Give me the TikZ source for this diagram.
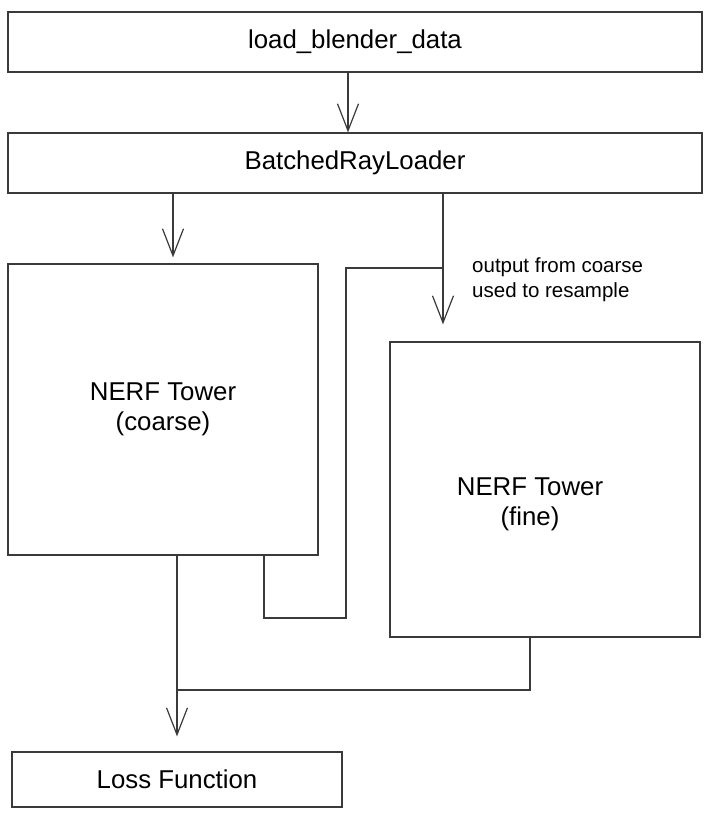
\documentclass[tikz,border=0pt]{standalone}
\usepackage{fontspec}
\setmainfont{Liberation Sans}
\usetikzlibrary{arrows.meta}
\definecolor{linegray}{HTML}{3A3A3A}
\begin{document}
\begin{tikzpicture}[x=1pt, y=-1pt,
  box/.style={draw=linegray, line width=1.2pt, inner sep=0pt, font=\fontsize{25.8}{30}\selectfont, align=center},
  conn/.style={draw=linegray, line width=1.2pt},
  arr/.style={conn, -{Straight Barb[length=27pt, width=21pt, line width=1.2pt]}},
  note/.style={font=\fontsize{20.5}{25}\selectfont, align=left, anchor=west, inner sep=0pt}]
\useasboundingbox (0,0) rectangle (712,825);
\node[box, minimum width=694pt, minimum height=60pt] (load) at (355,42){load\_blender\_data};
\node[box, minimum width=694pt, minimum height=60pt] (batch) at (355,163){BatchedRayLoader};
\node[box, minimum width=310pt, minimum height=291pt] (coarse) at (163,409.5){NERF Tower\\(coarse)};
\node[box, minimum width=310pt, minimum height=295pt] (fine) at (545,489.5){};
\node[box, draw=none] (finetxt) at (530,504){NERF Tower\\(fine)};
\node[box, minimum width=330pt, minimum height=55pt] (loss) at (177,779.5){Loss Function};
\node[note] (resample) at (472,280){output from coarse\\used to resample};
\coordinate (jn) at (443,268);
\coordinate (lp) at (346,618);
\coordinate (mrg) at (177,690);
\draw[arr] ([xshift=-7pt]load.south) -- ([xshift=-7pt]batch.north);
\draw[arr] ([xshift=-182pt]batch.south) -- ([xshift=10pt, yshift=6pt]coarse.north);
\draw[arr] ([xshift=88pt]batch.south) -- ([xshift=-102pt, yshift=17pt]fine.north);
\draw[conn] ([xshift=101pt]coarse.south) |- (lp) |- (jn);
\draw[arr] ([xshift=14pt]coarse.south) -- ([yshift=15pt]loss.north);
\draw[conn] ([xshift=-15pt]fine.south) |- (mrg);
\end{tikzpicture}
\end{document}
